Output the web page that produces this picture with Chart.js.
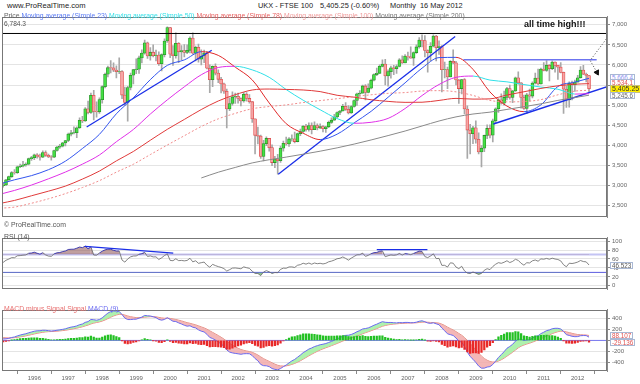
<!DOCTYPE html>
<html>
<head>
<meta charset="utf-8">
<title>UKX - FTSE 100 Monthly</title>
<script src="https://cdn.jsdelivr.net/npm/chart.js@4.4.1/dist/chart.umd.min.js"></script>
<style>
  body { margin: 0; background: #fff; }
  #page { position: relative; width: 640px; height: 384px; overflow: hidden; font-family: "Liberation Sans", Arial, sans-serif; }
  #page canvas { position: absolute; left: 0; }
  .txt { position: absolute; white-space: nowrap; line-height: 1; }
  .tag { position: absolute; left: 610px; height: 5px; line-height: 5px; padding: 0 1px; font-size: 6.3px; border: 1px solid #a9b8d4; background: #fff; white-space: nowrap; }
</style>
</head>
<body>
<div id="page">
  <div class="txt" style="left:7px;top:2px;font-size:7.6px;color:#222">www.ProRealTime.com</div>
  <div class="txt" style="left:258px;top:2px;font-size:7.4px;color:#222">UKX - FTSE 100</div>
  <div class="txt" style="left:320px;top:2px;font-size:7.4px;color:#222">5,405.25 (-0.60%)</div>
  <div class="txt" style="left:390px;top:2px;font-size:7.4px;color:#222">Monthly</div>
  <div class="txt" style="left:420px;top:2px;font-size:7.4px;color:#222">16 May 2012</div>

  <canvas id="priceCanvas" width="640" height="219" style="top:11px"></canvas>
  <canvas id="rsiCanvas" width="640" height="70" style="top:232px"></canvas>
  <canvas id="macdCanvas" width="640" height="80" style="top:304px"></canvas>

  <div class="txt" style="left:4px;top:12.5px;font-size:6.85px"><span style="color:#666">Price</span> <span style="color:#5b7cf5">Moving average (Simple 23)</span> <span style="color:#33e0e8">Moving average (Simple 50)</span> <span style="color:#e86060">Moving average (Simple 78)</span> <span style="color:#f09a9a">Moving average (Simple 100)</span> <span style="color:#777">Moving average (Simple 200)</span></div>
  <div class="txt" style="left:4px;top:21px;font-size:6.6px;color:#555">6,784.3</div>
  <div class="txt" style="left:524px;top:20px;font-size:9px;font-weight:bold;color:#111">all time high!!!</div>
  <div class="txt" style="left:4px;top:222px;font-size:6.9px;color:#555">© ProRealTime.com</div>
  <div class="txt" style="left:4px;top:234px;font-size:6.9px;color:#555">RSI (14)</div>
  <div class="txt" style="left:4px;top:306px;font-size:6.85px"><span style="color:#e87070">MACD minus Signal</span> <span style="color:#e87070">Signal</span> <span style="color:#6a6af0">MACD (9)</span></div>
</div>

<script>
// month index 0 = Jan 1995
const warmupCloses = [
  2807.2, 2867.6, 2878.7, 2813.1, 2840.7, 2900.0, 2926.5, 3100.0, 3037.5, 3171.0, 3166.9, 3418.4,
  3491.8, 3328.1, 3086.4, 3125.3, 2970.5, 2919.2, 3082.6, 3251.3, 3026.3, 3097.4, 3081.4, 3065.5
];

const closes = [
  2991.6, 3009.3, 3137.9, 3216.7, 3319.4, 3314.6, 3463.3, 3477.8, 3508.2, 3529.1, 3664.3, 3689.3,
  3759.3, 3727.6, 3699.7, 3817.9, 3747.8, 3711.0, 3703.2, 3867.6, 3953.7, 3979.1, 4058.0, 4118.5,
  4275.8, 4308.3, 4312.9, 4436.0, 4621.3, 4604.6, 4907.5, 4817.5, 5244.2, 4842.3, 4831.8, 5135.5,
  5458.5, 5767.3, 5932.2, 5928.3, 5870.7, 5832.5, 5837.0, 5249.4, 5064.4, 5438.4, 5743.9, 5882.6,
  5896.0, 6175.1, 6295.3, 6552.2, 6226.2, 6318.5, 6231.9, 6246.4, 6029.8, 6255.7, 6597.2, 6930.2,
  6268.5, 6232.6, 6540.2, 6327.4, 6359.3, 6312.7, 6365.3, 6672.7, 6294.2, 6438.4, 6142.2, 6222.5,
  6297.5, 5917.9, 5633.7, 5966.9, 5796.1, 5642.5, 5529.1, 5345.0, 4903.4, 5039.7, 5203.6, 5217.4,
  5164.8, 5101.0, 5271.8, 5165.6, 5085.1, 4656.4, 4246.2, 4227.3, 3721.8, 4039.7, 4169.4, 3940.4,
  3567.4, 3655.6, 3613.3, 3926.0, 4048.1, 4031.2, 4157.0, 4161.1, 4091.3, 4287.6, 4342.6, 4476.9,
  4390.7, 4492.2, 4385.7, 4489.7, 4430.7, 4464.1, 4413.1, 4459.3, 4570.8, 4624.2, 4703.2, 4814.3,
  4852.3, 4968.5, 4894.4, 4801.7, 4964.0, 5113.2, 5282.3, 5296.9, 5477.7, 5317.3, 5423.2, 5618.8,
  5760.3, 5791.5, 5964.6, 6023.1, 5723.8, 5833.4, 5928.3, 5906.1, 5960.8, 6129.2, 6048.8, 6220.8,
  6203.1, 6171.5, 6308.0, 6449.2, 6621.4, 6607.9, 6360.1, 6303.3, 6466.8, 6721.6, 6432.5, 6456.9,
  5879.8, 5884.3, 5702.1, 6087.3, 6053.5, 5625.9, 5411.9, 5636.6, 4902.5, 4377.3, 4288.0, 4434.2,
  4149.6, 3830.1, 3926.1, 4243.7, 4417.9, 4249.2, 4608.4, 4908.9, 5133.9, 5044.6, 5190.7, 5412.9,
  5188.5, 5354.5, 5679.6, 5553.3, 5188.4, 4916.9, 5258.0, 5225.2, 5548.6, 5675.2, 5528.3, 5899.9,
  5862.9, 5994.0, 5908.8, 6069.9, 5990.0, 5945.7, 5815.2, 5394.5, 5128.5, 5544.2, 5505.4, 5572.3,
  5681.6, 5871.5, 5768.5, 5737.8, 5405.25
];

const highs = [
  3080, 3060, 3150, 3230, 3340, 3390, 3480, 3530, 3600, 3560, 3680, 3720,
  3780, 3790, 3780, 3860, 3860, 3780, 3740, 3880, 3970, 4020, 4070, 4120,
  4300, 4370, 4460, 4460, 4680, 4720, 4940, 5100, 5300, 5370, 5080, 5180,
  5480, 5800, 5970, 6110, 6050, 5980, 6180, 5860, 5450, 5470, 5800, 5890,
  6150, 6220, 6380, 6620, 6570, 6430, 6500, 6370, 6330, 6280, 6650, 6950,
  6940, 6480, 6800, 6560, 6480, 6510, 6500, 6700, 6800, 6470, 6520, 6380,
  6370, 6340, 6000, 5980, 6030, 5880, 5690, 5550, 5400, 5180, 5330, 5300,
  5300, 5180, 5320, 5310, 5260, 5090, 4660, 4450, 4250, 4120, 4210, 4170,
  4010, 3720, 3770, 3980, 4100, 4200, 4190, 4260, 4330, 4300, 4400, 4490,
  4520, 4560, 4560, 4580, 4530, 4530, 4490, 4470, 4600, 4680, 4770, 4830,
  4870, 5020, 5060, 4990, 4990, 5130, 5300, 5360, 5500, 5510, 5530, 5650,
  5780, 5920, 6000, 6130, 6140, 5880, 5970, 5990, 6000, 6160, 6230, 6260,
  6320, 6450, 6330, 6500, 6680, 6750, 6730, 6380, 6560, 6750, 6740, 6600,
  6480, 6070, 5950, 6110, 6380, 6090, 5640, 5640, 5660, 4980, 4520, 4470,
  4610, 4310, 3990, 4250, 4510, 4510, 4650, 4930, 5160, 5280, 5350, 5440,
  5500, 5370, 5700, 5830, 5560, 5250, 5290, 5400, 5580, 5800, 5900, 5920,
  6060, 6110, 6010, 6100, 6080, 5990, 6060, 5820, 5480, 5580, 5600, 5620,
  5740, 5960, 5990, 5800, 5740
];

const lows = [
  2950, 2954, 2990, 3120, 3200, 3280, 3300, 3440, 3460, 3480, 3510, 3620,
  3640, 3680, 3630, 3690, 3720, 3690, 3630, 3690, 3850, 3920, 3960, 3980,
  4090, 4230, 4280, 4190, 4420, 4560, 4590, 4780, 4790, 4630, 4700, 4790,
  5050, 5430, 5700, 5800, 5830, 5680, 5780, 5160, 4990, 4600, 5380, 5530,
  5780, 5790, 6050, 6270, 6160, 6120, 6200, 6100, 5990, 5850, 6200, 6560,
  6180, 5990, 6170, 6060, 6130, 6200, 6280, 6300, 6270, 6100, 6070, 6000,
  6060, 5900, 5310, 5460, 5750, 5560, 5300, 5290, 4430, 4860, 5000, 5040,
  5050, 4980, 5070, 5100, 5050, 4570, 3780, 4030, 3670, 3610, 3990, 3850,
  3490, 3440, 3280, 3570, 3850, 4000, 3970, 4100, 4060, 4080, 4240, 4320,
  4350, 4350, 4280, 4390, 4380, 4410, 4330, 4320, 4440, 4540, 4620, 4680,
  4760, 4850, 4870, 4780, 4790, 4950, 4990, 5220, 5290, 5130, 5300, 5400,
  5600, 5730, 5790, 5950, 5500, 5470, 5670, 5760, 5790, 5950, 6040, 6050,
  6120, 6170, 5990, 6290, 6420, 6450, 6200, 5820, 6100, 6450, 6100, 6260,
  5330, 5680, 5410, 5700, 6030, 5500, 5040, 5280, 4780, 3670, 3780, 4040,
  4050, 3780, 3460, 3840, 4160, 4180, 4080, 4560, 4820, 5020, 5000, 5130,
  5150, 5060, 5340, 5520, 4920, 4890, 4790, 5100, 5180, 5530, 5500, 5520,
  5850, 5840, 5600, 5880, 5820, 5640, 5800, 4790, 4940, 4950, 5130, 5340,
  5570, 5670, 5760, 5580, 5320
];

const yearLabels = ['1996', '1997', '1998', '1999', '2000', '2001', '2002', '2003', '2004',
  '2005', '2006', '2007', '2008', '2009', '2010', '2011', '2012'];
const yearTickMonths = [12, 24, 36, 48, 60, 72, 84, 96, 108, 120, 132, 144, 156, 168, 180, 192, 204];

// moving averages every half year
const maMonths = [0, 5, 11, 17, 23, 29, 35, 41, 47, 53, 59, 65, 71, 77, 83, 89, 95, 101, 107,
  113, 119, 125, 131, 137, 143, 149, 155, 161, 167, 173, 179, 185, 191, 197, 203, 208];
const sma23 = [3040, 3138, 3242, 3390, 3603, 3918, 4270, 4784, 5181, 5635, 5990, 6126, 6331, 6239,
  5945, 5628, 5053, 4536, 4298, 4140, 4275, 4556, 4844, 5195, 5554, 5920, 6183, 6189, 5891, 5327,
  4975, 4836, 5006, 5462, 5573, 5667];
const sma50 = [2780, 2873, 3007, 3163, 3331, 3528, 3756, 4087, 4392, 4777, 5130, 5455, 5756, 5937,
  5967, 5877, 5692, 5387, 5121, 4884, 4664, 4546, 4571, 4668, 4914, 5238, 5513, 5692, 5723, 5623,
  5579, 5512, 5449, 5395, 5274, 5283];
const sma78 = [2550, 2624, 2740, 2855, 2981, 3156, 3355, 3610, 3844, 4124, 4396, 4642, 4889, 5102,
  5259, 5376, 5400, 5390, 5376, 5336, 5244, 5197, 5133, 5092, 5068, 5071, 5116, 5167, 5149, 5155,
  5251, 5332, 5415, 5480, 5520, 5534];
const sma100 = [2430, 2458, 2553, 2665, 2794, 2946, 3117, 3329, 3526, 3767, 4005, 4236, 4466, 4657,
  4793, 4909, 4964, 5005, 5063, 5112, 5159, 5209, 5257, 5293, 5312, 5350, 5360, 5330, 5240, 5116,
  5080, 5089, 5136, 5256, 5348, 5370];
const sma200Months = [71, 77, 83, 89, 95, 101, 107, 113, 119, 125, 131, 137, 143, 149, 155, 161,
  167, 173, 179, 185, 191, 197, 203, 208];
const sma200 = [3184, 3327, 3446, 3559, 3638, 3704, 3776, 3851, 3934, 4028, 4131, 4240, 4353, 4479,
  4603, 4706, 4777, 4824, 4892, 4960, 5032, 5117, 5188, 5246];

// drawn lines, in [month, value]
const athLevel = 6784.3;
const priceTrend1 = [[30.5, 4453], [74.7, 6368]];
const priceTrend2 = [[98.2, 3276], [160.7, 6710]];
const priceSupport = [[174.2, 4530], [214.7, 5465]];
const resistance = [[163.6, 6127], [210.7, 6127]];
const targetArrow = [[214.7, 6704], [208.4, 6111], [210.8, 5814]];
const rsiTrend1 = [[29.9, 88], [61.1, 73]];
const rsiTrend2 = [[133, 81], [150.9, 81]];
const rsiLevels = [70, 30];

// last values shown in the right hand tags
const lastClose = 5405.25, lastSma23 = 5666.4, lastSma78 = 5534.1, lastSma200 = 5245.6;
const lastRsi = 46.523, lastSignal = 88.107, lastHist = -29.136;

const xMin = 0.94, xMax = 214.35;
const fontFamily = "'Liberation Sans', Arial, sans-serif";

const opens = closes.map((c, i) => i === 0 ? warmupCloses[warmupCloses.length - 1] : closes[i - 1]);
const months = closes.map((c, i) => i);
const pts = (xs, ys) => xs.map((x, i) => ({ x: x, y: ys[i] }));
const pairs = arr => arr.map(p => ({ x: p[0], y: p[1] }));

function ema(vals, n) {
  const k = 2 / (n + 1);
  const out = [vals[0]];
  for (let i = 1; i < vals.length; i++) out.push(vals[i] * k + out[i - 1] * (1 - k));
  return out;
}

function rsi(vals, n) {
  const out = [];
  let g = 0, l = 0;
  for (let i = 1; i < vals.length; i++) {
    const d = vals[i] - vals[i - 1];
    const up = d > 0 ? d : 0, dn = d < 0 ? -d : 0;
    if (i <= n) { g += up / n; l += dn / n; }
    else { g = (g * (n - 1) + up) / n; l = (l * (n - 1) + dn) / n; }
    out[i] = 100 - 100 / (1 + g / l);
  }
  return out;
}

const allCloses = warmupCloses.concat(closes);
const off = warmupCloses.length;
const rsiAll = rsi(allCloses, 14);
const ema12 = ema(allCloses, 12), ema26 = ema(allCloses, 26);
const macdAll = ema12.map((v, i) => v - ema26[i]);
const signalAll = ema(macdAll, 9);
const rsiVals = months.map(i => rsiAll[i + off]);
const macdVals = months.map(i => macdAll[i + off]);
const signalVals = months.map(i => signalAll[i + off]);
const histVals = months.map(i => macdVals[i] - signalVals[i]);

function xScale(show) {
  return {
    type: 'linear', min: xMin, max: xMax, offset: false, display: show,
    afterBuildTicks: s => { s.ticks = yearTickMonths.map(v => ({ value: v })); },
    afterFit: s => { s.height = 13; },
    grid: { drawOnChartArea: false, tickLength: 3, color: '#8a8a8a' },
    border: { display: false },
    ticks: {
      padding: 1, color: '#666', maxRotation: 0, autoSkip: false,
      font: { size: 6, family: fontFamily },
      callback: v => yearLabels[yearTickMonths.indexOf(v)]
    }
  };
}

function yScale(min, max, ticks, fmt) {
  return {
    position: 'right', min: min, max: max,
    afterBuildTicks: s => { s.ticks = ticks.map(v => ({ value: v })); },
    afterFit: s => { s.width = 33; },
    grid: { color: '#e4e4e4', tickLength: 3, tickColor: '#8a8a8a' },
    border: { display: true, color: '#8a8a8a' },
    ticks: { padding: 2, color: '#666', font: { size: 6, family: fontFamily }, callback: fmt }
  };
}

function paneOptions(yMin, yMax, yTicks, fmt, showX) {
  return {
    responsive: false, animation: false, events: [],
    layout: { padding: { left: 3, right: 0, top: 0, bottom: 0 }, autoPadding: false },
    plugins: { legend: { display: false }, tooltip: { enabled: false } },
    scales: { x: xScale(showX), y: yScale(yMin, yMax, yTicks, fmt) }
  };
}

const paneFrame = {
  id: 'paneFrame',
  afterDraw(chart) {
    const a = chart.chartArea, ctx = chart.ctx;
    ctx.save();
    ctx.strokeStyle = '#777';
    ctx.lineWidth = 1;
    ctx.strokeRect(Math.round(a.left) - 0.5, Math.round(a.top) + 0.5,
      Math.round(a.right - a.left), Math.round(a.bottom - a.top) - 1);
    ctx.restore();
  }
};

function lineDs(label, data, color, extra) {
  return Object.assign({
    type: 'line', label: label, data: data, borderColor: color, borderWidth: 1,
    pointRadius: 0, fill: false, order: 1
  }, extra || {});
}

const slope = (upColor, downColor) => ({
  borderColor: c => c.p1.parsed.y >= c.p0.parsed.y ? upColor : downColor
});

// ---- price pane
const priceChart = new Chart(document.getElementById('priceCanvas'), {
  type: 'bar',
  data: {
    datasets: [
      lineDs('Moving average (Simple 200)', pts(sma200Months, sma200), '#8a8a8a', { cubicInterpolationMode: 'monotone' }),
      lineDs('Moving average (Simple 100)', pts(maMonths, sma100), '#f08c8c', { borderDash: [2, 2], cubicInterpolationMode: 'monotone' }),
      lineDs('Moving average (Simple 78)', pts(maMonths, sma78), '#e03a3a', { cubicInterpolationMode: 'monotone' }),
      lineDs('Moving average (Simple 50)', pts(maMonths, sma50), '#30e0e8', { cubicInterpolationMode: 'monotone', segment: slope('#e030e8', '#30e0e8') }),
      lineDs('Moving average (Simple 23)', pts(maMonths, sma23), '#3355ee', { cubicInterpolationMode: 'monotone', segment: slope('#3355ee', '#e02828') }),
      lineDs('ath', [{ x: xMin, y: athLevel }, { x: xMax, y: athLevel }], '#000'),
      lineDs('trend1', pairs(priceTrend1), '#1a2ee8', { borderWidth: 1.3 }),
      lineDs('trend2', pairs(priceTrend2), '#1a2ee8', { borderWidth: 1.3 }),
      lineDs('support', pairs(priceSupport), '#1a2ee8', { borderWidth: 1.5 }),
      lineDs('resistance', pairs(resistance), '#6c74f0', { borderWidth: 1.5 }),
      lineDs('target', pairs(targetArrow), '#444', {
        borderDash: [1, 2], pointRadius: [0, 0, 3], pointStyle: 'triangle', rotation: 152,
        pointBackgroundColor: '#111', pointBorderColor: '#111', order: 0
      }),
      {
        type: 'bar', label: 'High-Low', data: months.map(i => ({ x: i, y: [lows[i], highs[i]] })),
        backgroundColor: '#a8a8a8', barThickness: 1, grouped: false, order: 9
      },
      {
        type: 'bar', label: 'Price', data: months.map(i => ({ x: i, y: [opens[i], closes[i]] })),
        backgroundColor: months.map(i => closes[i] >= opens[i] ? '#44e044' : '#f6a6a6'),
        borderColor: months.map(i => closes[i] >= opens[i] ? '#2a962a' : '#e05252'),
        borderWidth: 0.8, borderSkipped: false, barThickness: 3, grouped: false, order: 8
      }
    ]
  },
  options: paneOptions(2211, 7205, [2500, 3000, 3500, 4000, 4500, 5000, 5500, 6000, 6500, 7000],
    v => v.toLocaleString('en-US'), false),
  plugins: [paneFrame]
});

// ---- RSI pane
const rsiPts = months.map(i => ({ x: i, y: rsiVals[i] }));
const rsiChart = new Chart(document.getElementById('rsiCanvas'), {
  type: 'line',
  data: {
    datasets: [
      lineDs('RSI (14)', rsiPts, '#666', {
        borderWidth: 0.8,
        segment: { borderColor: c => (c.p0.parsed.y > rsiLevels[0] && c.p1.parsed.y > rsiLevels[0]) ? '#1c1ca8' : '#666' },
        fill: { target: { value: rsiLevels[0] }, above: 'rgba(150,95,95,0.6)', below: 'rgba(0,0,0,0)' }
      }),
      lineDs('RSI low', rsiPts, 'rgba(0,0,0,0)', {
        borderWidth: 0,
        fill: { target: { value: rsiLevels[1] }, above: 'rgba(0,0,0,0)', below: 'rgba(90,170,90,0.7)' }
      }),
      lineDs('70', [{ x: xMin, y: rsiLevels[0] }, { x: xMax, y: rsiLevels[0] }], '#c4c4f4', { borderWidth: 2, order: 3 }),
      lineDs('30', [{ x: xMin, y: rsiLevels[1] }, { x: xMax, y: rsiLevels[1] }], '#5c5ce0', { order: 3 }),
      lineDs('rsiTrend1', pairs(rsiTrend1), '#1a2ee8', { borderWidth: 1.3, order: 0 }),
      lineDs('rsiTrend2', pairs(rsiTrend2), '#1a2ee8', { borderWidth: 1.3, order: 0 })
    ]
  },
  options: paneOptions(-7.05, 107.7, [0, 20, 40, 60, 80, 100], v => v, false),
  plugins: [paneFrame]
});

// ---- MACD pane
const macdChart = new Chart(document.getElementById('macdCanvas'), {
  type: 'bar',
  data: {
    datasets: [
      {
        type: 'bar', label: 'MACD minus Signal', data: months.map(i => ({ x: i, y: histVals[i] })),
        backgroundColor: months.map(i => histVals[i] >= 0 ? '#22c022' : '#e82828'),
        barThickness: 1.6, grouped: false, order: 0
      },
      lineDs('MACD (9)', months.map(i => ({ x: i, y: macdVals[i] })), '#6a6af0', {
        fill: { target: 2, above: 'rgba(160,238,160,0.85)', below: 'rgba(242,170,170,0.85)' }, order: 1
      }),
      lineDs('Signal', months.map(i => ({ x: i, y: signalVals[i] })), '#f08080', { order: 1 }),
      lineDs('zero', [{ x: xMin, y: 0 }, { x: xMax, y: 0 }], '#7878f0', { order: 2 })
    ]
  },
  options: paneOptions(-566, 571, [-400, -200, 0, 200, 400], v => v, true),
  plugins: [paneFrame]
});

// ---- right hand value tags
function placeTags(chart, canvasTop, tags, anchorIdx) {
  const page = document.getElementById('page');
  const y = tags.map(t => chart.scales.y.getPixelForValue(t.value) + canvasTop);
  for (let i = anchorIdx - 1; i >= 0; i--) y[i] = Math.min(y[i], y[i + 1] - tags[i].gap);
  for (let i = anchorIdx + 1; i < tags.length; i++) y[i] = Math.max(y[i], y[i - 1] + tags[i - 1].gap);
  tags.forEach((t, i) => {
    const d = document.createElement('div');
    d.className = 'tag';
    d.textContent = t.text;
    d.style.color = t.color;
    if (t.bg) { d.style.background = t.bg; d.style.borderColor = '#c8c27a'; d.style.height = '6px'; d.style.lineHeight = '6px'; d.style.fontSize = '7px'; }
    const h = t.bg ? 8 : 7;
    d.style.top = (y[i] - h / 2) + 'px';
    page.appendChild(d);
  });
}

placeTags(priceChart, 11, [
  { value: lastSma23, text: '5,666.4', color: '#8a8ef0', gap: 5 },
  { value: lastSma78, text: '5,534.1', color: '#e05050', gap: 6.5 },
  { value: lastClose, text: '5,405.25', color: '#333', bg: '#ffee00', gap: 7 },
  { value: lastSma200, text: '5,245.6', color: '#666', gap: 6 }
], 2);
placeTags(rsiChart, 232, [{ value: lastRsi, text: '46.523', color: '#555', gap: 6 }], 0);
placeTags(macdChart, 304, [
  { value: lastSignal, text: '88.107', color: '#e05050', gap: 7 },
  { value: lastHist, text: '-29.136', color: '#e05050', gap: 7 }
], 0);
</script>
</body>
</html>
